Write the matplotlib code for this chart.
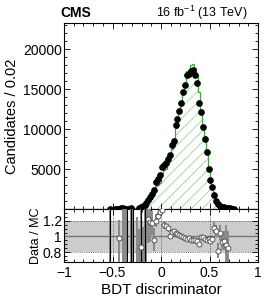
import numpy as np
import matplotlib.pyplot as plt
from matplotlib.ticker import MultipleLocator, FixedLocator, FuncFormatter

plt.rcParams['font.family'] = ['Liberation Sans', 'DejaVu Sans']
plt.rcParams['mathtext.fontset'] = 'custom'
plt.rcParams['mathtext.rm'] = 'Liberation Sans'
plt.rcParams['hatch.linewidth'] = 0.6

# bins of 0.02, first bin centred at -0.55, last at 0.75
first_center = -0.55
bin_width = 0.02

data_counts = [0, 20, 0, 0, 10, 20, 60, 90, 90, 40, 30, 50, 100, 0, 0, 0,
               110, 250, 380, 520, 800, 1100, 1500, 1900, 2400, 3400, 3800, 4300,
               5300, 5500, 5700, 6300, 6700, 8000, 8500, 10500, 11200, 12200, 13200,
               14600, 15500, 16700, 16900, 17300, 17400, 16700, 15700, 13200, 12100,
               10300, 8800, 7100, 5000, 3600, 2700, 1750, 1040, 620, 420, 300, 230,
               170, 110, 70, 30, 10]

mc_counts = [10, 20, 20, 20, 30, 40, 60, 80, 80, 70, 60, 70, 90, 90, 110, 140,
             200, 290, 400, 500, 700, 920, 1280, 1950, 2300, 2850, 3050, 3300,
             4500, 4850, 5050, 5750, 6600, 7550, 8000, 10100, 10900, 12000, 13100,
             14750, 15800, 17200, 17350, 18000, 18150, 17600, 16700, 14600, 12250,
             10350, 9100, 7400, 5200, 3800, 2550, 1600, 970, 700, 400, 310, 240,
             190, 130, 80, 40, 15]

ratio_x = [-0.53, -0.43, -0.39, -0.37, -0.35, -0.31, -0.29, -0.25, -0.23, -0.21,
           -0.19, -0.17, -0.15, -0.13, -0.11, -0.09, -0.07, -0.05, -0.03, -0.01,
           0.01, 0.03, 0.05, 0.07, 0.09, 0.11, 0.13, 0.15, 0.17, 0.19, 0.21, 0.23,
           0.25, 0.27, 0.29, 0.31, 0.33, 0.35, 0.37, 0.39, 0.41, 0.43, 0.45, 0.47,
           0.49, 0.51, 0.53, 0.55, 0.57, 0.59, 0.61, 0.63, 0.65, 0.67, 0.69]
ratio_val = [0.40, 0.98, 1.60, 1.60, 1.60, 0.40, 0.40, 0.50, 0.50, 0.87,
             0.50, 0.40, 1.60, 1.22, 1.18, 1.17, 0.96, 1.20, 1.255, 1.31,
             1.34, 1.15, 1.135, 1.105, 1.01, 1.06, 1.064, 1.04, 1.03, 1.02, 1.008, 0.99,
             0.98, 0.966, 0.974, 0.96, 0.957, 0.95, 0.944, 0.90, 0.99, 0.995, 0.97, 0.957,
             0.965, 0.944, 0.97, 1.11, 1.07, 0.82, 1.05, 0.93, 0.945, 0.89, 0.855]
ratio_lo = [1.0, 0.40, 1.0, 1.0, 1.0, 0.5, 0.5, 0.5, 0.5, 0.30,
            0.5, 0.5, 1.0, 0.30, 0.25, 0.15, 0.15, 0.08, 0.06, 0.05,
            0.05, 0.04, 0.03, 0.03, 0.03, 0.02, 0.02, 0.02, 0.02, 0.015, 0.015, 0.015,
            0.015, 0.015, 0.015, 0.015, 0.015, 0.015, 0.015, 0.015, 0.015, 0.015, 0.02, 0.02,
            0.02, 0.03, 0.04, 0.07, 0.08, 0.09, 0.10, 0.10, 0.12, 0.30, 0.30]
ratio_hi = [1.2, 0.23, 0.5, 0.5, 0.5, 1.0, 1.0, 0.75, 0.60, 0.50,
            0.62, 1.0, 0.5, 0.20, 0.20, 0.15, 0.15, 0.08, 0.06, 0.05,
            0.05, 0.04, 0.03, 0.03, 0.03, 0.02, 0.02, 0.02, 0.02, 0.015, 0.015, 0.015,
            0.015, 0.015, 0.015, 0.015, 0.015, 0.015, 0.015, 0.015, 0.015, 0.015, 0.02, 0.02,
            0.02, 0.03, 0.04, 0.07, 0.08, 0.09, 0.10, 0.10, 0.12, 0.25, 0.22]
ratio_dark = [1, 0, 0, 0, 1, 1, 1, 0, 0, 1,
              0, 1, 0, 0, 0, 0, 0, 0, 0, 0,
              0, 1, 1, 1, 1, 1, 1, 1, 1, 1, 1, 1,
              1, 1, 1, 1, 1, 1, 1, 1, 1, 1, 1, 1,
              1, 1, 1, 0, 0, 0, 0, 0, 0, 0, 0]

centers = np.round(first_center + bin_width * np.arange(len(data_counts)), 2)
data = np.array(data_counts, dtype=float)
edges_all = np.round(np.arange(-1, 1 + 1e-9, bin_width), 2)
mc_all = np.zeros(len(edges_all) - 1)
i0 = int(round((first_center - bin_width / 2 + 1) / bin_width))
mc_all[i0:i0 + len(mc_counts)] = mc_counts

rx = np.array(ratio_x)
rv = np.array(ratio_val)
rlo = np.array(ratio_lo)
rhi = np.array(ratio_hi)
dark = np.array(ratio_dark, dtype=bool)

W, H = 270, 300
fig = plt.figure(figsize=(W / 100, H / 100), dpi=100)
x0, x1 = 64, 258
ax = fig.add_axes([x0 / W, 1 - 209 / H, (x1 - x0) / W, (209 - 22.7) / H])
rax = fig.add_axes([x0 / W, 1 - 262.3 / H, (x1 - x0) / W, (262.3 - 209) / H])

# main panel
ax.stairs(mc_all, edges_all, fill=True, facecolor='none', edgecolor='#9ad49a',
          hatch='///', linewidth=0)
ax.stairs(mc_all, edges_all, color='#3ea83e', lw=0.9)
m = data > 0
ax.plot(centers[m], data[m], 'o', color='k', ms=3.8, zorder=4)
ax.set_xlim(-1, 1)
ax.set_ylim(0, 23300)
ax.yaxis.set_major_locator(FixedLocator([5000, 10000, 15000, 20000]))
ax.yaxis.set_minor_locator(MultipleLocator(1000))
ax.xaxis.set_major_locator(MultipleLocator(0.5))
ax.xaxis.set_minor_locator(MultipleLocator(0.1))
ax.tick_params(which='both', direction='in', top=True, right=True,
               labelbottom=False, labelsize=10, width=0.6, pad=1.5)
ax.tick_params(which='major', length=4)
ax.tick_params(which='minor', length=2)
ax.set_ylabel('Candidates / 0.02', fontsize=10.5)
ax.yaxis.set_label_coords(-0.232, 0.5)

# ratio panel
rax.axhspan(0.8, 1.2, color='#cccccc', lw=0, zorder=0)
rax.grid(True, which='major', ls=':', color='#444444', lw=0.6)
rax.axhline(1, color='#777777', lw=1.0, zorder=2)
rax.errorbar(rx, rv, yerr=[rlo, rhi], fmt='none', ecolor='#888888',
             elinewidth=1.4, zorder=3)
rax.errorbar(rx[dark], rv[dark], yerr=[rlo[dark], rhi[dark]], fmt='none',
             ecolor='k', elinewidth=0.8, zorder=3)
rax.plot(rx, rv, 'o', mfc='white', mec='#444444', mew=0.6, ms=3.6, zorder=4)
rax.set_xlim(-1, 1)
rax.set_ylim(0.67, 1.35)
rax.yaxis.set_major_locator(FixedLocator([0.8, 1.0, 1.2]))
rax.yaxis.set_minor_locator(MultipleLocator(0.05))
rax.xaxis.set_major_locator(MultipleLocator(0.5))
rax.xaxis.set_minor_locator(MultipleLocator(0.1))
fmt = FuncFormatter(lambda v, p: ('%g' % v).replace('-', '\u2212'))
rax.xaxis.set_major_formatter(fmt)
rax.yaxis.set_major_formatter(fmt)
rax.tick_params(which='both', direction='in', top=True, right=True,
                labelsize=10, width=0.6, pad=1.5)
rax.tick_params(axis='x', pad=3)
rax.tick_params(which='major', length=4)
rax.tick_params(which='minor', length=2)
rax.set_ylabel('Data / MC', fontsize=9)
rax.yaxis.set_label_coords(-0.113, 0.5)
rax.set_xlabel('BDT discriminator', fontsize=11)
rax.xaxis.labelpad = 2

fig.text(60 / W, 1 - 17 / H, 'CMS', fontsize=10, weight='bold', ha='left', va='baseline')
fig.text(248 / W, 1 - 17 / H, r'16 fb$^{-1}$ (13 TeV)', fontsize=9,
         ha='right', va='baseline')

fig.savefig('out.png', dpi=100)
